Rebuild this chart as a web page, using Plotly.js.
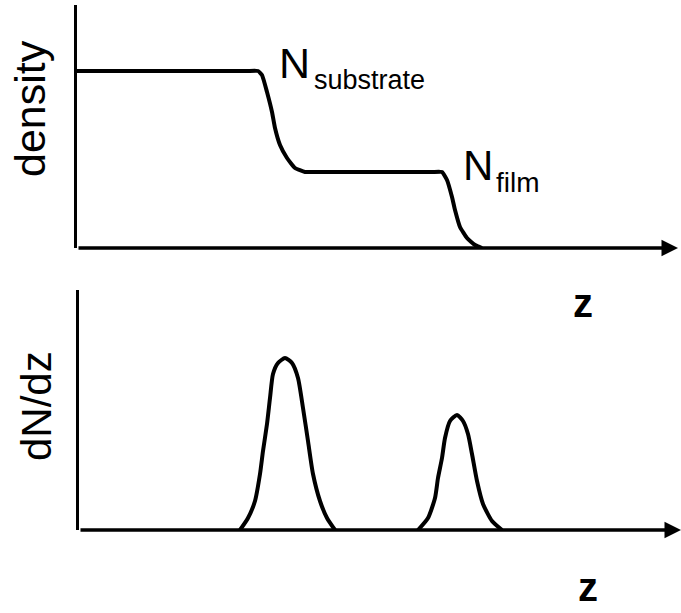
<!DOCTYPE html>
<html>
<head>
<meta charset="utf-8">
<script src="https://cdn.plot.ly/plotly-3.0.1.min.js"></script>
<style>html,body{margin:0;padding:0;background:#fff;}#chart{width:681px;height:613px;}</style>
</head>
<body>
<div id="chart"></div>
<script>
// Top panel: density profile along z (arbitrary units)
const densityZ = [0, 90, 170, 181, 185, 190, 195, 198, 203, 210, 218, 228, 240, 300, 355, 365, 370, 375, 378, 383, 390, 398, 405];
const densityN = [177, 177, 177, 177, 173, 156, 136, 120, 103, 90, 80, 76, 76, 76, 76, 76, 68, 51, 38, 21, 10, 3, 0];

// Bottom panel: derivative dN/dz, two peaks
const peak1Z = [161, 169, 176, 181, 184, 188, 191, 194, 199, 206, 213, 219, 224, 229, 234, 241, 248, 256];
const peak1D = [0, 12, 29, 56, 79, 106, 132, 156, 167, 172, 167, 152, 122, 89, 56, 29, 12, 0];
const peak2Z = [339, 349, 356, 359, 363, 366, 371, 378, 384, 389, 393, 398, 404, 413, 423];
const peak2D = [0, 12, 32, 52, 72, 92, 109, 115, 109, 96, 76, 49, 26, 9, 0];

const labels = {
  yTop: 'density',
  yBottom: 'dN/dz',
  x: 'z',
  sub1: 'substrate',
  sub2: 'film',
  N: 'N'
};

const W = 681, H = 613;
const px = v => v / W;
const py = v => 1 - v / H;

const stepLine = {color: '#000', width: 4, shape: 'spline', smoothing: 0.4};
const peakLine = {color: '#000', width: 4, shape: 'spline', smoothing: 0.6};

const traces = [
  {x: densityZ, y: densityN, xaxis: 'x', yaxis: 'y', mode: 'lines', line: stepLine, hoverinfo: 'skip'},
  {x: peak1Z, y: peak1D, xaxis: 'x2', yaxis: 'y2', mode: 'lines', line: peakLine, hoverinfo: 'skip'},
  {x: peak2Z, y: peak2D, xaxis: 'x2', yaxis: 'y2', mode: 'lines', line: peakLine, hoverinfo: 'skip'}
];

const hiddenX = {showgrid: false, zeroline: false, showticklabels: false, ticks: '', showline: false, fixedrange: true};
const yAx = {showgrid: false, zeroline: false, showticklabels: false, ticks: '', showline: true, linewidth: 3.3, linecolor: '#000', fixedrange: true};

const font = 'Liberation Sans, Arial, Helvetica, sans-serif';

const ann = [];
// axes arrows
ann.push({xref: 'x', yref: 'y', axref: 'x', ayref: 'y', x: 601, y: 0, ax: 0, ay: 0, text: '', showarrow: true, arrowhead: 2, arrowsize: 1, arrowwidth: 3.3, arrowcolor: '#000'});
ann.push({xref: 'x2', yref: 'y2', axref: 'x2', ayref: 'y2', x: 602, y: 0, ax: 0, ay: 0, text: '', showarrow: true, arrowhead: 2, arrowsize: 1, arrowwidth: 3.3, arrowcolor: '#000'});

function txt(t, x, y, size, opts) {
  return Object.assign({xref: 'paper', yref: 'paper', x: px(x), y: py(y), text: t, showarrow: false,
    font: {family: font, size: size, color: '#000'}, xanchor: 'center', yanchor: 'middle'}, opts || {});
}
ann.push(txt(labels.yTop, 30, 109, 43, {textangle: -90}));
ann.push(txt(labels.yBottom, 36, 406, 42, {textangle: -90}));
ann.push(txt('<b>' + labels.x + '</b>', 583, 303, 40));
ann.push(txt('<b>' + labels.x + '</b>', 588, 587, 40));
ann.push(txt(labels.N, 277, 63, 43, {xanchor: 'left'}));
ann.push(txt(labels.sub1, 312, 80, 27, {xanchor: 'left'}));
ann.push(txt(labels.N, 461, 165, 42, {xanchor: 'left'}));
ann.push(txt(labels.sub2, 494, 182, 28, {xanchor: 'left'}));

const layout = {
  width: W, height: H,
  margin: {l: 0, r: 0, t: 0, b: 0},
  paper_bgcolor: '#fff', plot_bgcolor: 'rgba(0,0,0,0)',
  showlegend: false,
  xaxis: Object.assign({}, hiddenX, {domain: [px(77), 1], range: [0, 604], anchor: 'y'}),
  yaxis: Object.assign({}, yAx, {domain: [py(248), py(5)], range: [0, 243], anchor: 'x'}),
  xaxis2: Object.assign({}, hiddenX, {domain: [px(79), 1], range: [0, 602], anchor: 'y2'}),
  yaxis2: Object.assign({}, yAx, {domain: [py(530), py(290)], range: [0, 240], anchor: 'x2'}),
  annotations: ann
};

Plotly.newPlot('chart', traces, layout, {staticPlot: true, displayModeBar: false});
</script>
</body>
</html>
